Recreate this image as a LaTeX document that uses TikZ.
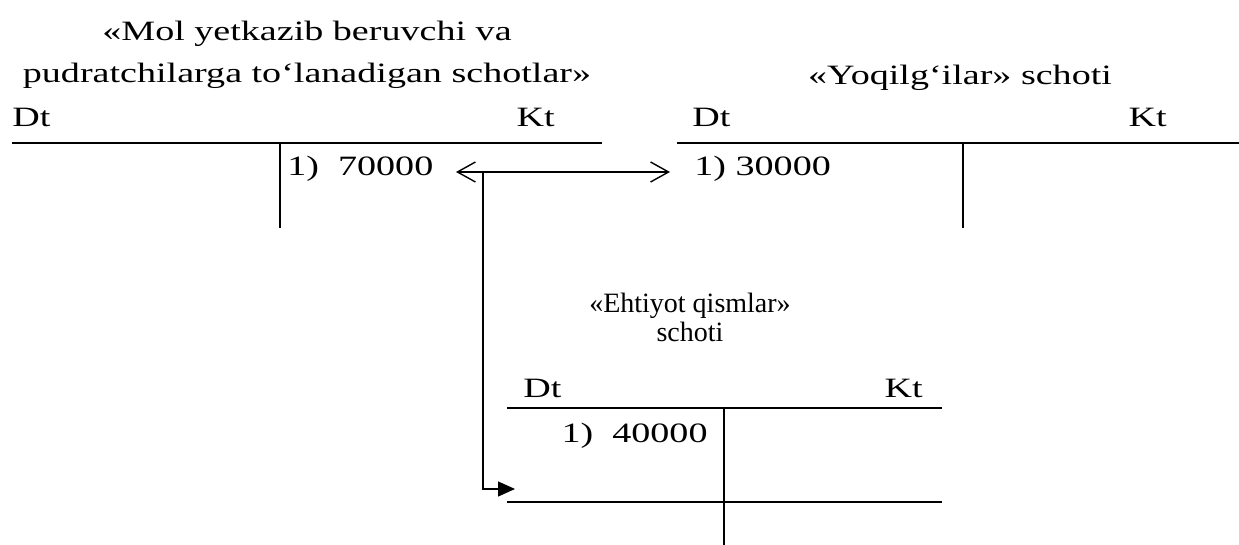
\documentclass[tikz,border=0pt]{standalone}
\usepackage{fontspec}
\setmainfont{Liberation Serif}[FakeStretch=1.36]
\newfontfamily\plainserif{Liberation Serif}
\usetikzlibrary{arrows.meta,positioning}

\begin{document}
\begin{tikzpicture}[
  x=0.5pt,y=-0.5pt,
  txt/.style={inner sep=0pt,font=\fontsize{14}{21}\selectfont},
  tight/.style={txt,font=\plainserif\fontsize{14}{14.5}\selectfont},
  rule/.style={line width=0.8pt},
  flow/.style={line width=0.7pt},
  barb/.style={flow,{Straight Barb[length=9pt,width=10pt]}-{Straight Barb[length=9pt,width=10pt]}},
  feed/.style={flow,-{Triangle[length=8.5pt,width=7.5pt]}}
]
\useasboundingbox (0,0) rectangle (1239,545);

% «Mol yetkazib ...» schoti
\coordinate (molL) at (12,143);
\coordinate (molR) at (602,143);
\coordinate (molT) at (280,143);
\coordinate (molB) at (280,228);
\draw[rule] (molL) -- (molR);
\draw[rule] (molT) -- (molB);
\node[txt,anchor=base,align=center] (molTitle) at (307,83)
  {«Mol yetkazib beruvchi va\\pudratchilarga to‘lanadigan schotlar»};
\node[txt,anchor=base west] (molDt) at (12,127) {Dt};
\node[txt,anchor=base east] (molKt) at (555,127) {Kt};
\node[txt,anchor=base west] (molSum) at (287,176) {1)~~70000};

% «Yoqilg‘ilar» schoti
\coordinate (yoqL) at (677,143);
\coordinate (yoqR) at (1239,143);
\coordinate (yoqT) at (963,143);
\coordinate (yoqB) at (963,228);
\draw[rule] (yoqL) -- (yoqR);
\draw[rule] (yoqT) -- (yoqB);
\node[txt,anchor=base] (yoqTitle) at (960,85) {«Yoqilg‘ilar» schoti};
\node[txt,anchor=base west] (yoqDt) at (692,127) {Dt};
\node[txt,anchor=base east] (yoqKt) at (1167,127) {Kt};
\node[txt,anchor=base west] (yoqSum) at (694,176) {1) 30000};

% «Ehtiyot qismlar» schoti
\coordinate (ehtL) at (507,408);
\coordinate (ehtR) at (942,408);
\coordinate (ehtT) at (724,408);
\coordinate (ehtB) at (724,545);
\coordinate (ehtL2) at (507,502);
\coordinate (ehtR2) at (942,502);
\draw[rule] (ehtL) -- (ehtR);
\draw[rule] (ehtT) -- (ehtB);
\draw[rule] (ehtL2) -- (ehtR2);
\node[tight,anchor=base,align=center] (ehtTitle) at (690,342)
  {«Ehtiyot qismlar»\\schoti};
\node[txt,anchor=base west] (ehtDt) at (523,398) {Dt};
\node[txt,anchor=base east] (ehtKt) at (923,398) {Kt};
\node[txt,anchor=base east] (ehtSum) at (708,443) {1)~~40000};

% provodkalar
\coordinate (split) at (483,172);
\coordinate (tipL) at (456,172);
\coordinate (tipR) at (670,172);
\coordinate (tipE) at (515,489);
\draw[barb] (tipL) -- (tipR);
\draw[feed] (split) |- (tipE);
\end{tikzpicture}
\end{document}
